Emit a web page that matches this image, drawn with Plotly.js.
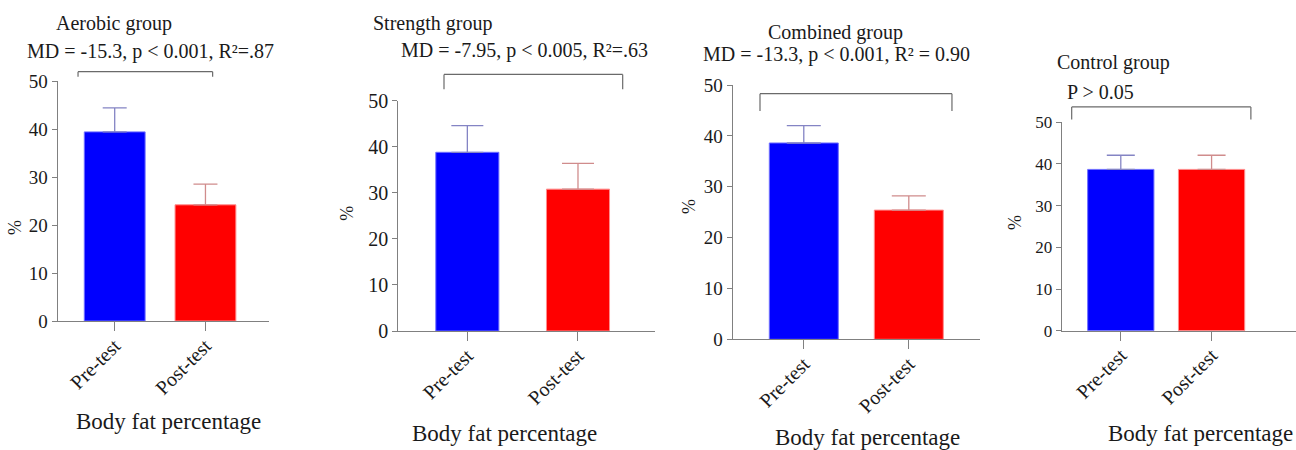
<!DOCTYPE html>
<html>
<head>
<meta charset="utf-8">
<script src="https://cdn.plot.ly/plotly-3.0.1.min.js"></script>
<style>html,body{margin:0;padding:0;background:#fff;}#chart{width:1296px;height:450px;}</style>
</head>
<body>
<div id="chart"></div>
<script>
// ---- data ----
var categories = ['Pre-test', 'Post-test'];
var aerobicMean = [39.4, 24.2];
var aerobicSD = [5.0, 4.3];
var strengthMean = [38.8, 30.8];
var strengthSD = [5.8, 5.6];
var combinedMean = [38.6, 25.4];
var combinedSD = [3.4, 2.8];
var controlMean = [38.7, 38.7];
var controlSD = [3.4, 3.4];
var groupTitles = ['Aerobic group', 'Strength group', 'Combined group', 'Control group'];
var statTexts = ['MD = -15.3, p < 0.001, R\u00b2=.87', 'MD = -7.95, p < 0.005, R\u00b2=.63',
                 'MD = -13.3, p < 0.001, R\u00b2 = 0.90', 'P > 0.05'];
var yTickVals = [0, 10, 20, 30, 40, 50];
var xTitle = 'Body fat percentage';
var yTitle = '%';

// ---- layout config (pixel geometry) ----
var W = 1296, H = 450;
function px(x) { return x / W; }
function py(y) { return 1 - y / H; }
var FONT = 'Liberation Serif';
var panels = [
  {mean: aerobicMean, sd: aerobicSD, ax: [57.7, 269], ay: [321, 81], xr: [-0.628, 1.70], bw: 0.67, cap: 12,
   yfs: 19, br: [-0.404, 1.079, 1.039, 1.018],
   t1: [113.9, 23], t2: [150.9, 51.7], yt: [15, 228], xt: [168.5, 421.7]},
  {mean: strengthMean, sd: strengthSD, ax: [398.3, 655], ay: [331, 100.7], xr: [-0.624, 1.696], bw: 0.57, cap: 16,
   yfs: 20, br: [-0.211, 1.404, 1.114, 1.05],
   t1: [432.3, 23], t2: [524.8, 50], yt: [346.7, 213], xt: [504, 433]},
  {mean: combinedMean, sd: combinedSD, ax: [732.7, 980], ay: [339.3, 85], xr: [-0.677, 1.678], bw: 0.657, cap: 17,
   yfs: 19, br: [-0.417, 1.411, 0.966, 0.898],
   t1: [835.5, 32.3], t2: [836, 54.3], yt: [688.3, 206.7], xt: [867.5, 437.5]},
  {mean: controlMean, sd: controlSD, ax: [1061.7, 1296], ay: [330.7, 122.3], xr: [-0.651, 1.93], bw: 0.73, cap: 14,
   yfs: 17, br: [-0.541, 1.433, 1.074, 1.014],
   t1: [1113.8, 62.3], t2: [1100.8, 91.7], yt: [1015, 223], xt: [1200.5, 433.3]}
];
var barColors = ['#0000ff', '#ff0000'];
var barLine = ['#6f6fff', '#ff8c8c'];
var errColors = ['#8484c4', '#d08c8c'];

var data = [];
var layout = {
  width: W, height: H, margin: {l: 0, r: 0, t: 0, b: 0},
  paper_bgcolor: '#fff', plot_bgcolor: 'rgba(0,0,0,0)',
  showlegend: false, barmode: 'overlay',
  font: {family: FONT, color: '#1a1a1a'},
  annotations: [], shapes: []
};

panels.forEach(function (p, i) {
  var n = i === 0 ? '' : String(i + 1);
  var xa = 'x' + n, ya = 'y' + n;
  for (var k = 0; k < categories.length; k++) {
    data.push({
      type: 'bar', x: [categories[k]], y: [p.mean[k]], width: [p.bw],
      xaxis: xa, yaxis: ya,
      marker: {color: barColors[k], line: {color: barLine[k], width: 1}},
      error_y: {type: 'data', symmetric: false, array: [p.sd[k]], arrayminus: [0],
                color: errColors[k], thickness: 1.3, width: p.cap},
      hoverinfo: 'x+y'
    });
  }
  layout['xaxis' + n] = {
    domain: [px(p.ax[0]), px(p.ax[1])], anchor: ya, type: 'category',
    categoryorder: 'array', categoryarray: categories, range: p.xr,
    showline: true, linecolor: '#808080', linewidth: 1.3, showgrid: false, zeroline: false,
    ticks: 'outside', ticklen: 9, tickwidth: 1.3, tickcolor: '#808080', ticklabelstandoff: -5,
    tickangle: -45, tickfont: {family: FONT, size: 20, color: '#1a1a1a'}, fixedrange: true
  };
  layout['yaxis' + n] = {
    domain: [py(p.ay[0]), py(p.ay[1])], anchor: xa, range: [0, 50],
    tickmode: 'array', tickvals: yTickVals,
    showline: true, linecolor: '#808080', linewidth: 1.3, showgrid: false, zeroline: false,
    ticks: 'outside', ticklen: 5, tickwidth: 1.3, tickcolor: '#808080',
    tickfont: {family: FONT, size: p.yfs, color: '#1a1a1a'}, fixedrange: true
  };
  var ann = function (txt, pos, size, angle) {
    layout.annotations.push({
      text: txt, xref: 'paper', yref: 'paper', x: px(pos[0]), y: py(pos[1]),
      xanchor: 'center', yanchor: 'middle', showarrow: false, textangle: angle || 0,
      font: {family: FONT, size: size, color: '#1a1a1a'}
    });
  };
  ann(groupTitles[i], p.t1, 20);
  ann(statTexts[i], p.t2, 20);
  ann(yTitle, p.yt, 18, -90);
  ann(xTitle, p.xt, 23);
  var b = p.br;
  var lineStyle = {color: '#6a6a6a', width: 1.2};
  var yref = ya + ' domain';
  layout.shapes.push(
    {type: 'line', xref: xa, yref: yref, x0: b[0], x1: b[1], y0: b[2], y1: b[2], line: lineStyle},
    {type: 'line', xref: xa, yref: yref, x0: b[0], x1: b[0], y0: b[2], y1: b[3], line: lineStyle},
    {type: 'line', xref: xa, yref: yref, x0: b[1], x1: b[1], y0: b[2], y1: b[3], line: lineStyle}
  );
});

Plotly.newPlot('chart', data, layout, {displayModeBar: false});
</script>
</body>
</html>
